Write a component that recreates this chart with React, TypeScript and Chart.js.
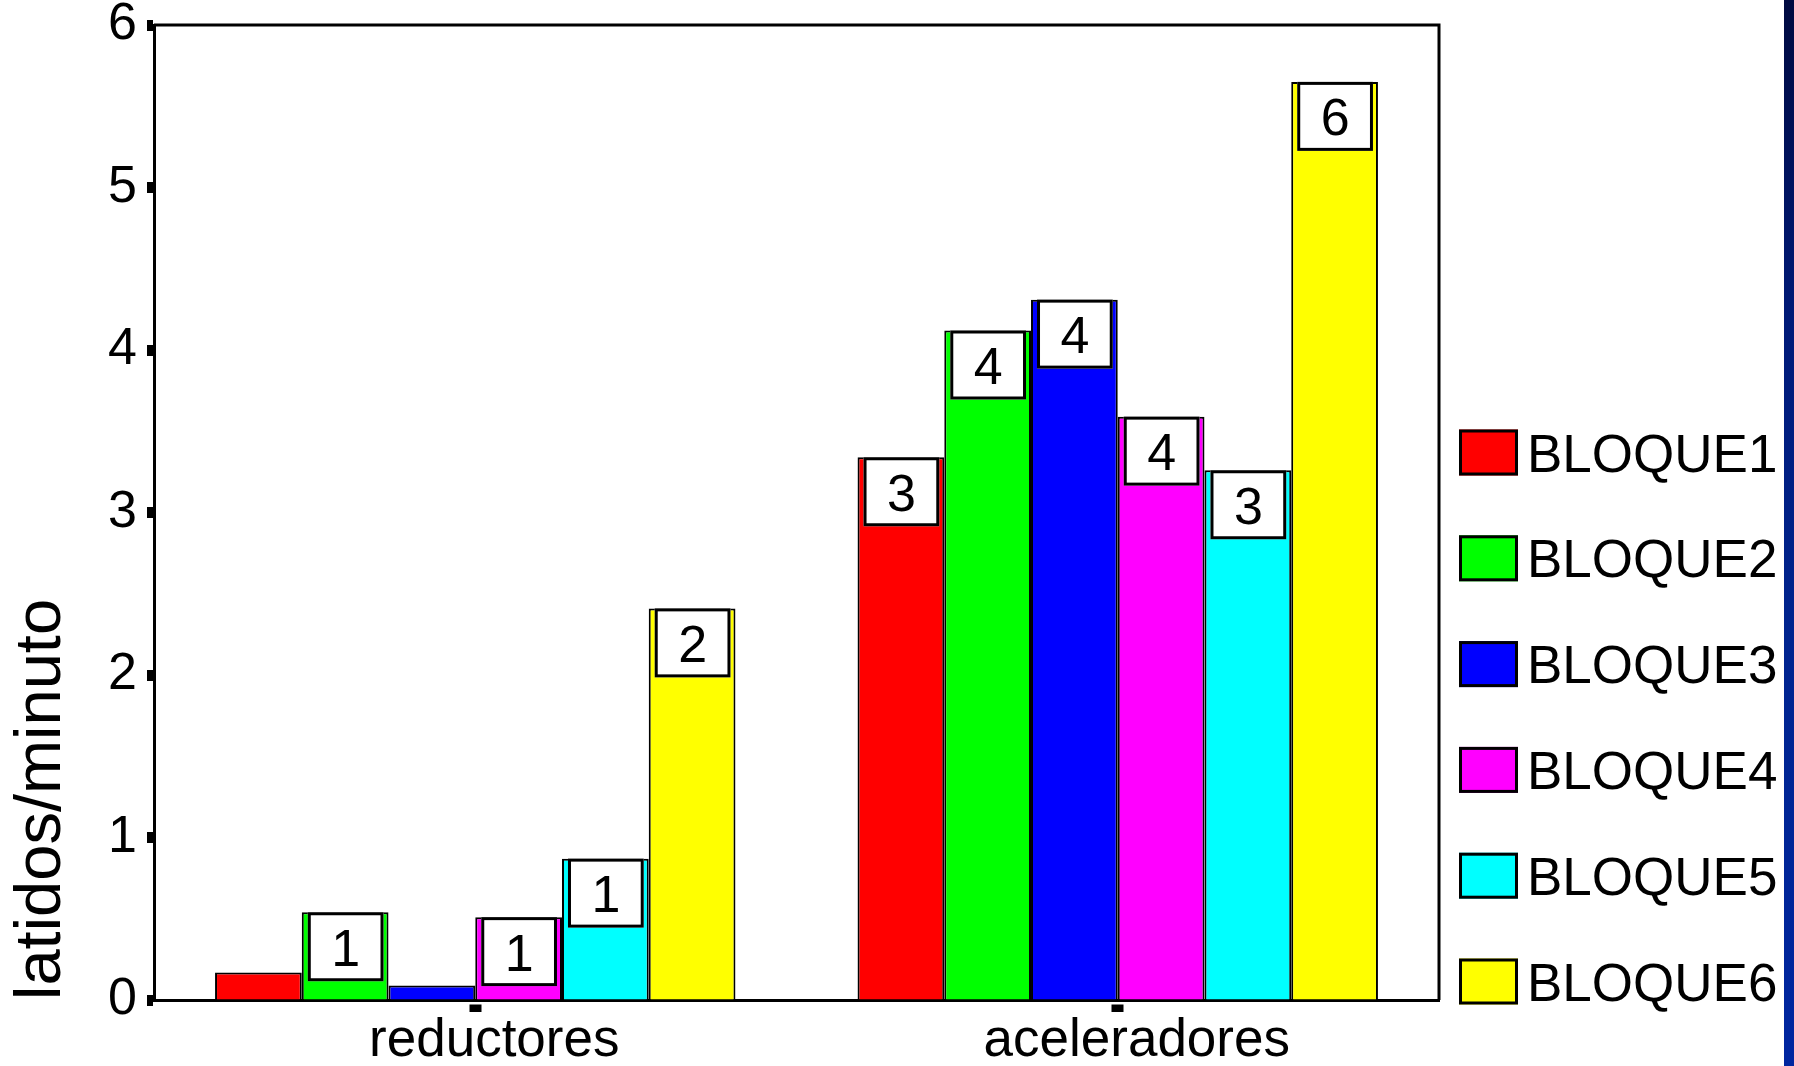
import React, { useEffect, useRef } from 'react';
import { Chart, registerables } from 'chart.js';

Chart.register(...registerables);

const categories = ['reductores', 'aceleradores'];
const seriesNames = ['BLOQUE1', 'BLOQUE2', 'BLOQUE3', 'BLOQUE4', 'BLOQUE5', 'BLOQUE6'];
const bloque1 = [0.17, 3.34];
const bloque2 = [0.54, 4.12];
const bloque3 = [0.09, 4.31];
const bloque4 = [0.51, 3.59];
const bloque5 = [0.87, 3.26];
const bloque6 = [2.41, 5.65];
const seriesValues = [bloque1, bloque2, bloque3, bloque4, bloque5, bloque6];
const seriesColors = ['#ff0000', '#00ff00', '#0000ff', '#ff00ff', '#00ffff', '#ffff00'];
const yMin = 0;
const yMax = 6;
const yStep = 1;
const yTitle = 'latidos/minuto';

const FONT = '"Liberation Sans", Arial, Helvetica, sans-serif';

const valueBoxPlugin = {
  id: 'valueBoxes',
  afterDatasetsDraw(chart: any) {
    const ctx = chart.ctx;
    chart.data.datasets.forEach((ds: any, i: number) => {
      const meta = chart.getDatasetMeta(i);
      meta.data.forEach((el: any, j: number) => {
        const v = Math.round(ds.data[j]);
        if (!v) return;
        const { x, y, width } = el.getProps(['x', 'y', 'width'], true);
        const left = x - width / 2 + 6;
        const right = x + width / 2 - 5;
        const top = y;
        const h = 69;
        ctx.save();
        ctx.fillStyle = '#ffffff';
        ctx.fillRect(left, top, right - left, h);
        ctx.lineWidth = 3;
        ctx.strokeStyle = '#000000';
        ctx.strokeRect(left + 1.5, top + 1.5, right - left - 3, h - 3);
        ctx.fillStyle = '#000000';
        ctx.font = `52px ${FONT}`;
        ctx.textAlign = 'center';
        ctx.textBaseline = 'alphabetic';
        ctx.fillText(String(v), (left + right) / 2, top + h / 2 + 19);
        ctx.restore();
      });
    });
  },
};

const framePlugin = {
  id: 'frame',
  afterDraw(chart: any) {
    const { ctx, chartArea } = chart;
    ctx.save();
    ctx.strokeStyle = '#000000';
    ctx.lineWidth = 3;
    ctx.beginPath();
    ctx.moveTo(chartArea.left, chartArea.top);
    ctx.lineTo(chartArea.right, chartArea.top);
    ctx.lineTo(chartArea.right, chartArea.bottom);
    ctx.stroke();
    ctx.restore();
  },
};

const legendPlugin = {
  id: 'customLegend',
  afterDraw(chart: any) {
    const ctx = chart.ctx;
    const boxX = 1459;
    const boxW = 59;
    const boxH = 46;
    const firstCenter = 452.5;
    const gap = 105.8;
    ctx.save();
    chart.data.datasets.forEach((ds: any, i: number) => {
      const cy = firstCenter + i * gap;
      ctx.fillStyle = ds.backgroundColor;
      ctx.fillRect(boxX, cy - boxH / 2, boxW, boxH);
      ctx.lineWidth = 3;
      ctx.strokeStyle = '#000000';
      ctx.strokeRect(boxX + 1.5, cy - boxH / 2 + 1.5, boxW - 3, boxH - 3);
      ctx.fillStyle = '#000000';
      ctx.font = `53px ${FONT}`;
      ctx.textAlign = 'left';
      ctx.textBaseline = 'alphabetic';
      ctx.fillText(ds.label, 1527, cy + 19);
    });
    ctx.restore();
  },
};

export default function App() {
  const canvasRef = useRef<HTMLCanvasElement | null>(null);

  useEffect(() => {
    document.body.style.margin = '0';
    document.body.style.overflow = 'hidden';
    const canvas = canvasRef.current;
    if (!canvas) return;
    Chart.defaults.font.family = FONT;
    Chart.defaults.color = '#000000';
    const chart = new Chart(canvas, {
      type: 'bar',
      data: {
        labels: categories,
        datasets: seriesNames.map((name, i) => ({
          label: name,
          data: seriesValues[i],
          backgroundColor: seriesColors[i],
          borderColor: '#000000',
          borderWidth: 2,
          barPercentage: 1,
          categoryPercentage: 0.81,
        })),
      },
      options: {
        responsive: false,
        animation: false,
        devicePixelRatio: 1,
        layout: { padding: { top: 25, right: 355, left: 0, bottom: 0 } },
        plugins: {
          legend: { display: false },
          tooltip: { enabled: false },
        },
        scales: {
          x: {
            type: 'category',
            afterFit: (scale: any) => {
              scale.height = 66;
              scale.paddingLeft = 0;
              scale.paddingRight = 0;
            },
            grid: {
              offset: false,
              drawOnChartArea: false,
              drawTicks: true,
              tickLength: 12,
              tickWidth: 12,
              tickColor: '#000000',
              tickBorderDash: [0, 2.5, 8, 100],
            },
            border: { display: true, color: '#000000', width: 3 },
            ticks: {
              color: '#000000',
              font: { size: 53, family: FONT, lineHeight: 1 },
              padding: 3,
              labelOffset: 19,
              maxRotation: 0,
              autoSkip: false,
            },
          },
          y: {
            min: yMin,
            max: yMax,
            afterFit: (scale: any) => {
              scale.width = 154;
              scale.paddingTop = 0;
              scale.paddingBottom = 0;
            },
            grid: {
              drawOnChartArea: false,
              drawTicks: true,
              tickLength: 7,
              tickWidth: 11,
              tickColor: '#000000',
            },
            border: { display: true, color: '#000000', width: 3 },
            ticks: {
              stepSize: yStep,
              color: '#000000',
              font: { size: 52, family: FONT, lineHeight: 1 },
              padding: 10,
            },
            title: {
              display: true,
              text: yTitle,
              align: 'start',
              color: '#000000',
              font: { size: 65, family: FONT, lineHeight: 1.2 },
              padding: { top: 3, bottom: 0 },
            },
          },
        },
      },
      plugins: [valueBoxPlugin, framePlugin, legendPlugin],
    } as any);
    return () => {
      chart.destroy();
    };
  }, []);

  return (
    <div
      style={{
        position: 'absolute',
        left: 0,
        top: 0,
        width: 1794,
        height: 1066,
        background: '#ffffff',
        overflow: 'hidden',
      }}
    >
      <canvas
        ref={canvasRef}
        width={1794}
        height={1066}
        style={{ display: 'block', width: 1794, height: 1066 }}
      />
      <div
        style={{
          position: 'absolute',
          left: 1784,
          top: 0,
          width: 10,
          height: 1066,
          background: 'linear-gradient(to bottom, #000a40 0%, #001a78 30%, #00248f 60%, #0026a0 100%)',
        }}
      />
    </div>
  );
}
